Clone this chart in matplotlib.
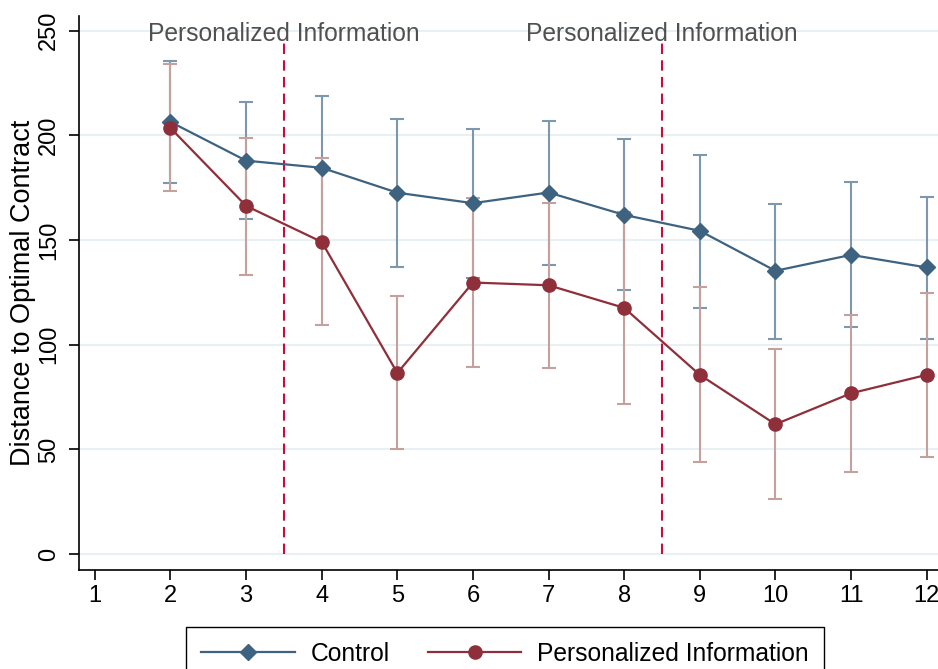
import numpy as np
import matplotlib
matplotlib.use('Agg')
import matplotlib.pyplot as plt
from matplotlib.lines import Line2D

plt.rcParams['font.family'] = ['Liberation Sans', 'DejaVu Sans']

# Data
rounds = [2, 3, 4, 5, 6, 7, 8, 9, 10, 11, 12]

control_mean = [206.4, 187.9, 184.5, 172.6, 167.6, 172.7, 162.0, 154.4, 135.3, 142.9, 136.9]
control_hi = [235.4, 215.9, 218.8, 207.9, 203.0, 207.0, 198.4, 190.7, 167.3, 177.7, 170.6]
control_lo = [177.2, 160.0, 150.2, 137.2, 131.9, 138.0, 126.0, 117.7, 102.9, 108.4, 102.9]

info_mean = [203.5, 166.3, 149.1, 86.5, 129.7, 128.4, 117.6, 85.6, 62.0, 76.8, 85.6]
info_hi = [234.1, 198.9, 189.0, 123.3, 169.9, 167.6, 163.5, 127.5, 98.0, 114.2, 124.8]
info_lo = [173.2, 133.4, 109.5, 50.2, 89.2, 88.9, 71.7, 43.8, 26.3, 39.4, 46.5]

switch_points = [3.5, 8.5]
annot_text = 'Personalized Information'

blue = '#3d6380'
blue_ci = '#7d97ae'
red = '#8f2f3a'
red_ci = '#c4a19d'
dash_red = '#cc0a3c'
grid_col = '#e9f0f3'

fig = plt.figure(figsize=(9.38, 6.69), dpi=100)
ax = fig.add_axes([79 / 938, 1 - 570 / 669, 1 - 79 / 938, (570 - 16) / 669])

x = np.array(rounds)
cm = np.array(control_mean)
im = np.array(info_mean)

# confidence intervals first, then the connected means
ax.errorbar(x, cm, yerr=[cm - np.array(control_lo), np.array(control_hi) - cm],
            fmt='none', ecolor=blue_ci, elinewidth=1.5, capsize=5, capthick=1.5, zorder=2)
ax.errorbar(x, im, yerr=[im - np.array(info_lo), np.array(info_hi) - im],
            fmt='none', ecolor=red_ci, elinewidth=1.5, capsize=5, capthick=1.5, zorder=3)
ax.plot(x, cm, '-D', color=blue, lw=1.6, ms=8.5, zorder=4, label='Control')
ax.plot(x, im, '-o', color=red, lw=1.6, ms=9.5, zorder=5, label='Personalized Information')

for sp in switch_points:
    ax.plot([sp, sp], [0, 245], color=dash_red, lw=1.5, dashes=(5, 3), zorder=1)
    ax.text(sp, 248.5, annot_text, ha='center', va='center', fontsize=17.7, color='#505050')

ax.set_xlim(0.79, 12.15)
ax.set_ylim(-7.6, 257)
ax.set_xticks(range(1, 13))
ax.set_yticks([0, 50, 100, 150, 200, 250])
ax.tick_params(axis='both', labelsize=17, length=7, width=1.2, direction='out')
ax.tick_params(axis='y', labelrotation=90, pad=6.5)
for lab in ax.get_yticklabels():
    lab.set_va('center')
ax.grid(axis='y', color=grid_col, lw=1.5, zorder=0)
ax.set_axisbelow(True)
ax.spines['top'].set_visible(False)
ax.spines['right'].set_visible(False)
ax.spines['left'].set_linewidth(1.2)
ax.spines['bottom'].set_linewidth(1.2)
ax.set_ylabel('Distance to Optimal Contract', fontsize=19.5, labelpad=1.5)

handles = [Line2D([], [], color=blue, marker='D', ms=8.5, lw=1.6),
           Line2D([], [], color=red, marker='o', ms=9.5, lw=1.6)]
leg = fig.legend(handles, ['Control', 'Personalized Information'], loc='upper center',
                 bbox_to_anchor=(505 / 938, 1 - 627 / 669), ncol=2, fontsize=17.7,
                 frameon=True, fancybox=False, edgecolor='black', framealpha=1,
                 handlelength=3.8, handletextpad=0.65, columnspacing=1.55,
                 borderpad=0.6, borderaxespad=0)
leg.get_frame().set_linewidth(1.0)

fig.savefig('out.png', dpi=100)
